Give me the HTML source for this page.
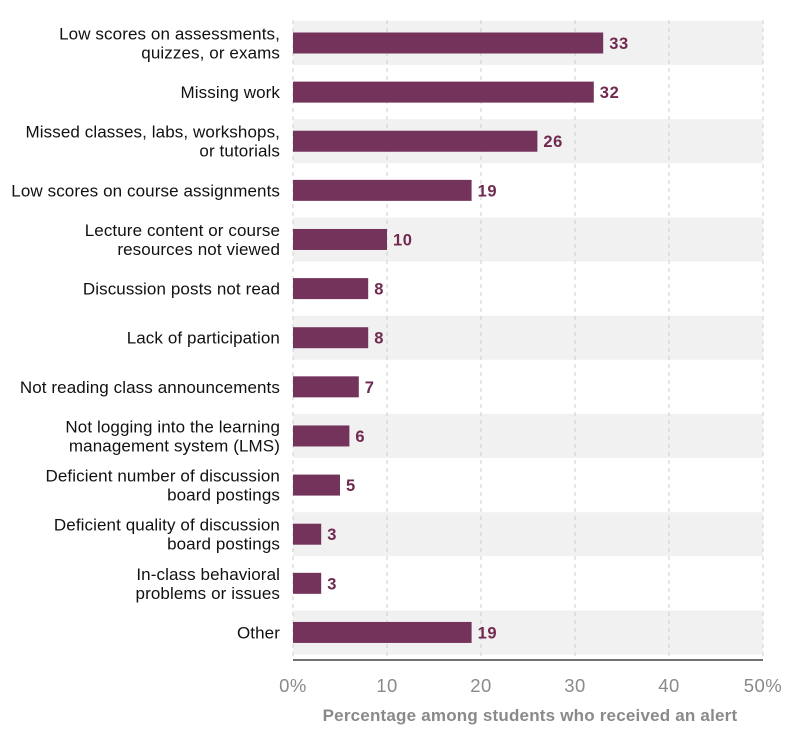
<!DOCTYPE html>
<html><head><meta charset="utf-8"><style>
body{margin:0;background:#fff;}
svg{display:block;font-family:"Liberation Sans",sans-serif;}
</style></head><body>
<svg id="chart" width="800" height="733"></svg>
<script>
const categories=[["Low scores on assessments,","quizzes, or exams"],["Missing work"],["Missed classes, labs, workshops,","or tutorials"],["Low scores on course assignments"],["Lecture content or course","resources not viewed"],["Discussion posts not read"],["Lack of participation"],["Not reading class announcements"],["Not logging into the learning","management system (LMS)"],["Deficient number of discussion","board postings"],["Deficient quality of discussion","board postings"],["In-class behavioral","problems or issues"],["Other"]];
const values=[33,32,26,19,10,8,8,7,6,5,3,3,19];
const ticks=[0,10,20,30,40,50];
const tickLabels=["0%","10","20","30","40","50%"];
const NS="http://www.w3.org/2000/svg";
const svg=document.getElementById('chart');
const x0=293,x1=763,xmax=50,y0=43,step=49.12;
function xs(v){return x0+(x1-x0)*v/xmax;}
function ys(i){return y0+step*i;}
function mk(t,a,p){const e=document.createElementNS(NS,t);for(const k in a)e.setAttribute(k,a[k]);(p||svg).appendChild(e);return e;}
categories.forEach((c,i)=>{if(i%2===0){const b=mk('rect',{x:x0,y:ys(i)-22,width:x1-x0,height:44,fill:'#f1f1f1'});

}});
ticks.forEach((t,i)=>{const g=mk('line',{x1:xs(t),x2:xs(t),y1:20,y2:660,stroke:'#cfcfcf','stroke-dasharray':'4,4','stroke-width':1});


const tl=mk('text',{x:xs(t),y:692,'text-anchor':'middle','font-size':18.5,'letter-spacing':0.5,fill:'#8a8a8a'});tl.textContent=tickLabels[i];

});
const ax=mk('line',{x1:x0,x2:x1,y1:660,y2:660,stroke:'#444','stroke-width':1.5});


categories.forEach((c,i)=>{const y=ys(i);
const r=mk('rect',{x:x0,y:y-10.5,width:xs(values[i])-x0,height:21,fill:'#74335a'});


const v=mk('text',{x:xs(values[i])+6,y:y+6,'font-size':16.5,'font-weight':'bold','letter-spacing':0.6,fill:'#70294f'});v.textContent=values[i];


const n=c.length;c.forEach((l,j)=>{const t=mk('text',{x:280,y:y+6+(j-(n-1)/2)*19,'text-anchor':'end','font-size':17,'letter-spacing':0.1,fill:'#111'});t.textContent=l;

});});
const at=mk('text',{x:530,y:721,'text-anchor':'middle','font-size':17,'font-weight':'bold','letter-spacing':0.2,fill:'#8a8a8a'});at.textContent='Percentage among students who received an alert';


</script>
</body></html>
